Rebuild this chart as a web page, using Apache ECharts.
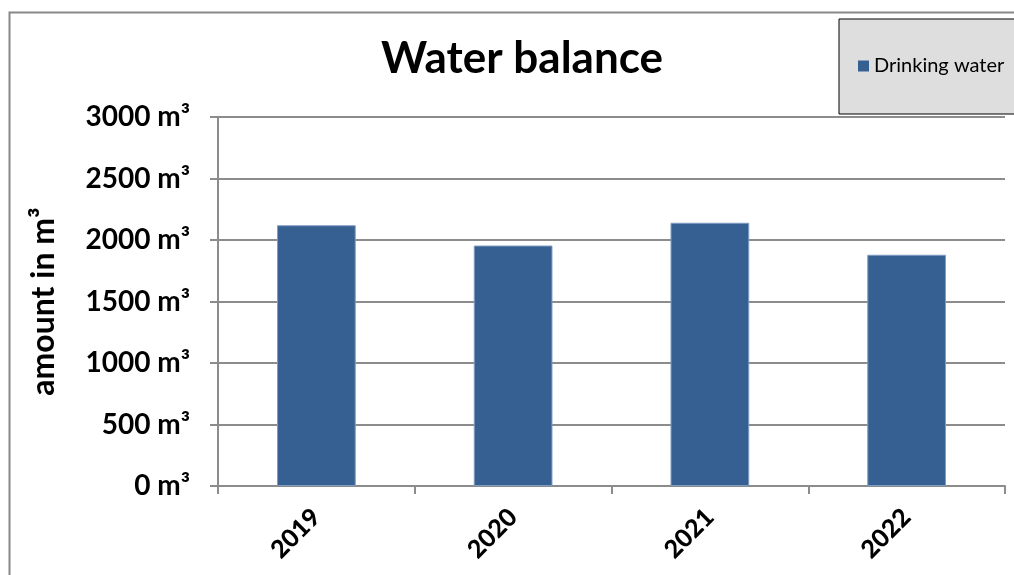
<!DOCTYPE html>
<html>
<head>
<meta charset="utf-8">
<script src="https://cdn.jsdelivr.net/npm/echarts@6/dist/echarts.min.js"></script>
<style>
  html, body { margin: 0; padding: 0; background: #fff; }
  #waterBalance { width: 1014px; height: 575px; }
</style>
</head>
<body>
<div id="waterBalance"></div>
<script>
// data
var years = ['2019', '2020', '2021', '2022']
var drinkingWater = [2120, 1955, 2140, 1880]
var yTicks = [0, 500, 1000, 1500, 2000, 2500, 3000]

var font = 'Lato, "Open Sans", sans-serif'
var chart = echarts.init(document.getElementById('waterBalance'))
var option = {
  animation: false,
  textStyle: { fontFamily: font },
  title: {
    text: 'Water balance',
    left: 376,
    top: 32,
    textStyle: { fontSize: 44, fontWeight: 'bold', color: '#000', fontFamily: font }
  },
  // legend box sticks out past the right edge like the original
  legend: {
    data: ['Drinking water'],
    left: 839,
    top: 19,
    padding: [37, 40, 38, 19],
    backgroundColor: '#dedede',
    borderColor: '#000',
    borderWidth: 1,
    icon: 'rect',
    itemWidth: 11,
    itemHeight: 11,
    itemGap: 6,
    itemStyle: { borderWidth: 0 },
    textStyle: { fontSize: 20, color: '#000', fontFamily: font }
  },
  graphic: [{
    type: 'rect',
    z: -1,
    shape: { x: 9.5, y: 12.5, width: 1100, height: 700 },
    style: { fill: 'none', stroke: '#888', lineWidth: 2 }
  }],
  grid: { left: 218, right: 9, top: 117, bottom: 89 },
  xAxis: {
    type: 'category',
    data: years,
    axisLine: { lineStyle: { color: '#8c8c8c', width: 2 } },
    axisTick: { show: true, length: 8, lineStyle: { color: '#8c8c8c', width: 2 } },
    axisLabel: {
      rotate: 45,
      margin: 27,
      fontSize: 25,
      fontWeight: 900,
      color: '#000',
      fontFamily: font
    }
  },
  yAxis: {
    type: 'value',
    min: yTicks[0],
    max: yTicks[yTicks.length - 1],
    interval: 500,
    name: 'amount in m³',
    nameLocation: 'middle',
    nameRotate: 90,
    nameGap: 158,
    nameTextStyle: { fontSize: 32, fontWeight: 'bold', color: '#000', fontFamily: font },
    axisLine: { show: true, lineStyle: { color: '#8c8c8c', width: 2 } },
    axisTick: { show: true, inside: false, length: 8, lineStyle: { color: '#8c8c8c', width: 2 } },
    axisLabel: {
      margin: 28,
      fontSize: 28,
      fontWeight: 'bold',
      color: '#000',
      fontFamily: font,
      formatter: function (v) { return v + ' m³' }
    },
    splitLine: { lineStyle: { color: '#8c8c8c', width: 2 } }
  },
  series: [{
    name: 'Drinking water',
    type: 'bar',
    data: drinkingWater,
    barWidth: '40%',
    itemStyle: { color: '#376092', borderColor: '#7f9cc4', borderWidth: 1 }
  }]
}
chart.setOption(option)
</script>
</body>
</html>
